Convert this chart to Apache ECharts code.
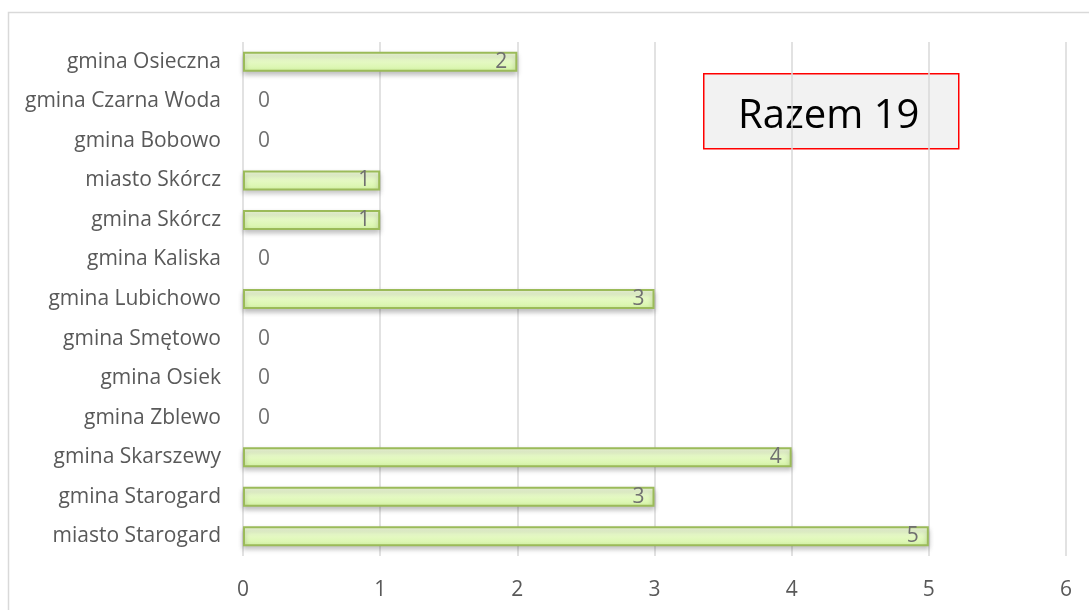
<!DOCTYPE html>
<html>
<head>
<meta charset="utf-8">
<script src="https://cdn.jsdelivr.net/npm/echarts@6/dist/echarts.min.js"></script>
<style>
  html, body { margin: 0; padding: 0; background: #fff; }
  #chart { width: 1089px; height: 610px; }
</style>
</head>
<body>
<div id="chart"></div>
<script>
// kategorie od dołu do góry (oś kategorii w ECharts rośnie w górę)
const categories = [
  "miasto Starogard", "gmina Starogard", "gmina Skarszewy", "gmina Zblewo",
  "gmina Osiek", "gmina Smętowo", "gmina Lubichowo", "gmina Kaliska",
  "gmina Skórcz", "miasto Skórcz", "gmina Bobowo", "gmina Czarna Woda",
  "gmina Osieczna"
];
const values = [5, 3, 4, 0, 0, 0, 3, 0, 1, 1, 0, 0, 2];
const xTicks = [0, 1, 2, 3, 4, 5, 6];
const totalText = "Razem 19";

const chart = echarts.init(document.getElementById("chart"));

const font = "'Open Sans', 'Noto Sans', sans-serif";

const seriesData = values.map(function (v) {
  if (v === 0) {
    return {
      value: v,
      itemStyle: { color: "transparent", borderWidth: 0, shadowBlur: 0, shadowOffsetY: 0, shadowColor: "transparent" },
      label: { position: "right", distance: 15 },
    };
  }
  return { value: v };
});

const option = {
  animation: false,
  backgroundColor: "#fff",
  grid: {
    left: 243,
    right: 23,
    top: 42,
    bottom: 54,
    containLabel: false,
  },
  xAxis: {
    type: "value",
    min: xTicks[0],
    max: xTicks[xTicks.length - 1],
    interval: 1,
    axisLine: { show: false },
    axisTick: { show: false },
    axisLabel: {
      color: "#595959",
      fontSize: 21,
      fontFamily: font,
      margin: 24,
    },
    splitLine: {
      show: true,
      lineStyle: { color: "#d9d9d9", width: 1.5 },
    },
  },
  yAxis: {
    type: "category",
    data: categories,
    axisLine: { show: false },
    axisTick: { show: false },
    axisLabel: {
      color: "#595959",
      fontSize: 21,
      fontFamily: font,
      margin: 22,
    },
  },
  series: [
    {
      type: "bar",
      data: seriesData,
      barWidth: 20,
      itemStyle: {
        color: new echarts.graphic.LinearGradient(0, 0, 0, 1, [
          { offset: 0, color: "#f3fde0" },
          { offset: 1, color: "#d6f5a6" },
        ]),
        borderColor: "#9bbb59",
        borderWidth: 2,
        shadowColor: "rgba(0,0,0,0.25)",
        shadowBlur: 5,
        shadowOffsetY: 3,
      },
      label: {
        show: true,
        position: "insideRight",
        distance: 10,
        color: "#707070",
        fontSize: 21,
        fontFamily: font,
      },
    },
  ],
  graphic: [
    {
      type: "rect",
      z: -1,
      shape: { x: 8.5, y: 12.5, width: 1200, height: 700 },
      style: { fill: "none", stroke: "#d9d9d9", lineWidth: 1.5 },
      silent: true,
    },
    {
      type: "group",
      left: 703,
      top: 73,
      z: 100,
      children: [
        {
          type: "rect",
          shape: { x: 0, y: 0, width: 255, height: 75 },
          style: { fill: "#f2f2f2", stroke: "#ff0000", lineWidth: 1.5 },
        },
        {
          type: "text",
          x: 125,
          y: 43,
          style: {
            text: totalText,
            fill: "#000",
            font: "40px 'Open Sans', 'Noto Sans', sans-serif",
            align: "center",
            verticalAlign: "middle",
          },
        },
      ],
    },
  ],
};

chart.setOption(option);
</script>
</body>
</html>
